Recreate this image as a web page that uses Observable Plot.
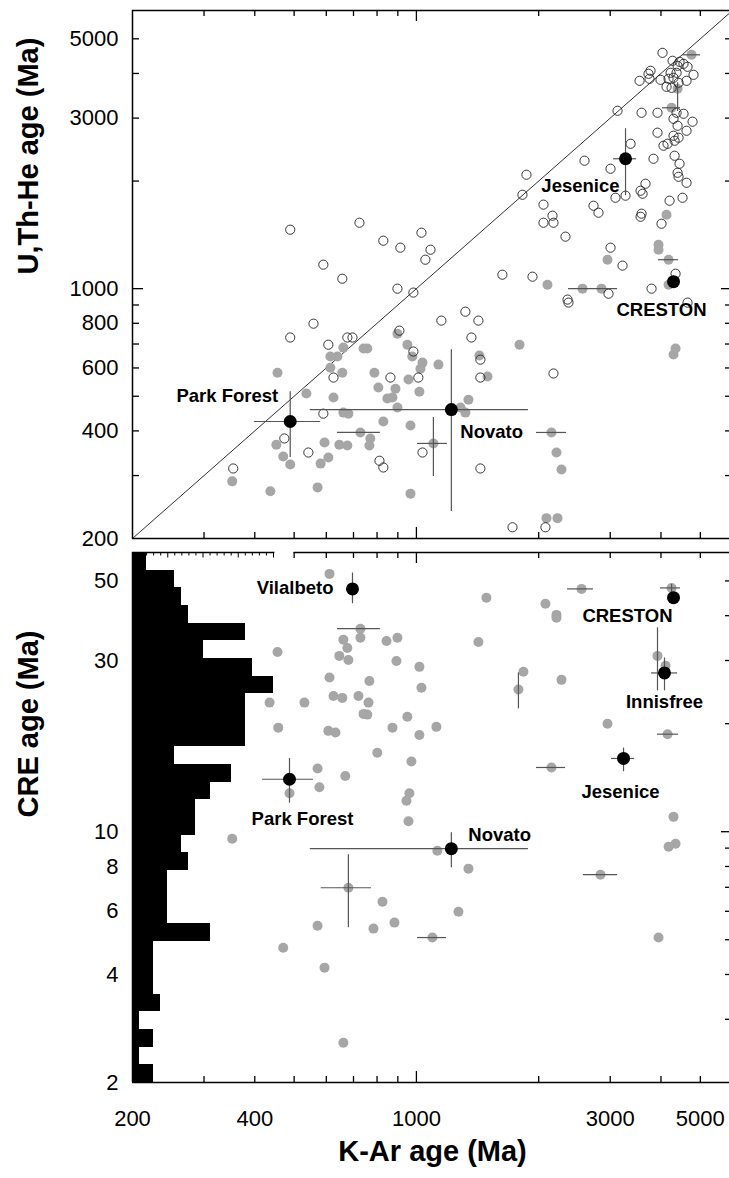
<!DOCTYPE html>
<html><head><meta charset="utf-8">
<script src="https://cdn.jsdelivr.net/npm/d3@7"></script>
<script src="https://cdn.jsdelivr.net/npm/@observablehq/plot@0.6"></script>
<style>
html,body{margin:0;padding:0;background:#fff;overflow:hidden}
#chart{position:relative;width:729px;height:1178px;overflow:hidden;background:#fff}
#chart svg{position:absolute;left:0;top:0;max-width:none}
</style></head><body><div id="chart"></div>
<script>
// ---------- DATA ----------
// Top panel: K-Ar age vs U,Th-He age (Ma)
const topOpen = [
 [4035,4568],[4272,4340],[4444,4312],[4395,4202],[4545,4256],[4650,4175],[3770,4069],[3727,3991],
 [4224,4017],[4370,4017],[4811,3965],[3543,3815],[3749,3865],[3990,3840],[4176,3865],[4295,3890],
 [4624,3815],[4128,3670],[4419,3767],[4248,3646],[3127,3145],[3583,3105],[3922,3105],[4370,3105],
 [4545,3085],[4295,2987],[4784,2931],[4395,2856],[3922,2731],[4624,2765],[4295,2678],[4419,2644],
 [3367,2543],[4152,2543],[4058,2511],[4321,2593],[2593,2280],[3005,2165],[3834,2309],[4321,2354],
 [4444,2236],[4395,2110],[4419,2056],[4624,1978],[3664,1966],[3563,1879],[3604,1843],[3272,1820],
 [3091,1796],[4200,1762],[4520,1796],[2729,1706],[1866,2083],[1824,1831],[2055,1718],[2163,1600],
 [2055,1529],[2175,1529],[2807,1631],[3583,1621],[3563,1589],[4012,1519],[2328,1398],[3005,1302],
 [3217,1160],[4345,1101],[829,1362],[913,1302],[1029,1434],[1083,1285],[1052,1205],[1628,1094],
 [1931,1080],[2971,968],[2355,932],[2368,914],[3792,1000],[4650,914],[489,1462],[590,1167],
 [724,1529],[657,1066],[898,1000],[983,975],[1320,862],[1152,814],[1421,814],[908,763],
 [1366,730],[983,667],[1437,633],[863,564],[1011,564],[1437,564],[2175,579],[1035,348],
 [811,330],[829,316],[1437,314],[1724,215],[2078,215],[558,798],[489,730],[607,697],
 [676,730],[696,730],[625,564],[590,447],[473,381],[542,348],[354,314]
];
const topGrey = [
 [4757,4510],[4395,3623],[4248,3206],[4128,1610],[3945,1327],[3945,1285],[2954,1205],[4176,1205],
 [2102,1026],[2564,1000],[2855,1000],[4176,1026],[4345,680],[4295,654],[898,748],[757,680],
 [950,697],[977,646],[1035,621],[1023,597],[1133,613],[1429,650],[1794,697],[788,582],
 [956,557],[1496,568],[806,529],[888,525],[1017,515],[848,493],[873,496],[898,465],
 [1284,465],[1320,450],[1343,489],[829,425],[967,414],[770,381],[766,364],[1101,369],
 [2150,396],[2212,348],[2276,312],[967,267],[2090,228],[2225,228],[661,684],[741,680],
 [614,646],[639,646],[455,582],[614,601],[657,582],[536,509],[625,496],[661,450],
 [680,447],[728,396],[452,366],[594,371],[646,366],[676,364],[470,339],[489,322],
 [581,324],[607,337],[352,289],[437,271],[571,278]
];
const topNamed = ["Park Forest","Novato","Jesenice","CRESTON"];
const topNamedKAr = [489,1219,3272,4295];
const topNamedHe = [425,459,2309,1046];
// horizontal error bars [y, xLow, xHigh]
const topErrH = [[4510,4520,5007],[3206,4035,4469],[1205,3945,4419],[1000,2368,3127],[369,1006,1192],
 [396,1975,2342],[396,639,815],[425,399,581],[459,548,1887],[2309,3057,3483]];
// vertical error bars [x, yLow, yHigh]
const topErrV = [[4395,3130,3767],[1101,298,436],[489,337,515],[1219,238,675],[3272,1820,2802],[4295,1010,1085]];

// Bottom panel: K-Ar age vs CRE age (Ma)
const botGrey = [
 [611,52.3],[728,36.8],[728,34.7],[661,34.3],[676,32.5],[455,31.7],[646,30.9],[680,30.1],
 [611,26.9],[435,22.9],[530,22.9],[625,23.9],[657,23.6],[720,23.9],[741,21.3],[457,19.5],
 [607,19.1],[632,18.9],[487,12.8],[571,15.0],[577,13.3],[668,14.3],[2550,47.5],[4248,47.8],
 [1487,44.9],[2078,43.2],[2212,40.2],[2212,39.5],[844,34.0],[898,34.7],[1421,33.8],[3922,30.9],
 [4105,29.0],[893,29.9],[1017,28.8],[766,26.3],[1029,25.2],[1834,27.9],[1783,24.9],[2276,26.5],
 [762,22.9],[757,21.2],[950,20.9],[873,19.5],[1017,18.6],[1120,19.6],[2954,20.0],[4152,18.7],
 [801,16.6],[972,15.7],[2150,15.1],[961,12.8],[945,12.2],[4295,11.0],[956,10.7],[1126,8.85],
 [1343,7.89],[825,6.38],[784,5.37],[883,5.58],[1269,5.98],[1095,5.07],[2839,7.59],[4176,9.08],
 [4345,9.26],[3945,5.07],[352,9.56],[680,6.98],[571,5.47],[470,4.75],[594,4.18],[661,2.58]
];
const botNamed = ["Vilalbeto","CRESTON","Innisfree","Park Forest","Jesenice","Novato"];
const botNamedKAr = [696,4295,4081,487,3235,1219];
const botNamedCRE = [47.5,44.9,27.7,14.0,16.0,8.97];
const botErrH = [[36.8,639,815],[47.5,2355,2729],[47.8,3990,4469],[18.7,3922,4419],[15.1,1975,2328],
 [5.07,1006,1186],[7.59,2578,3127],[6.98,583,775],[27.7,3792,4395],[14.0,418,558],[16.0,3022,3444],[8.97,548,1887]];
const botErrV = [[3922,24.7,37.0],[1783,22.0,27.7],[680,5.40,8.63],[4248,46.0,48.9],[696,43.2,52.6],
 [4081,24.7,30.5],[487,12.0,16.0],[3235,14.7,17.1],[1219,7.94,9.94]];

// CRE-age histogram: counts per log bin, from 2 Ma (bottom) to 60 Ma (top), 30 bins
const histCounts = [3,1,3,1,4,3,3,3,11,5,5,5,8,7,9,9,11,14,6,16,16,16,20,17,10,16,8,7,6,2];
const histTicksMinor = [1,2,3,4,6,7,8,9,11,12,13,14,16,17,18,19];
const histTicksMajor = [5,10,15,20];

// ticks and tick labels
const xTickMinor = [300,400,500,600,700,800,900,2000,3000,4000,5000];
const xTickMajor = [1000];
const xTickTopBot = [500,600,700,800,900,2000,3000,4000,5000];
const xLabels = [200,400,600,1000,3000,5000];
const yTopTickMinor = [300,400,500,600,700,800,900,2000,3000,4000,5000];
const yTopTickMajor = [1000];
const yTopLabels = [200,400,600,800,1000,3000,5000];
const yBotTickMinor = [3,4,5,6,7,8,9,20,30,40,50];
const yBotTickMajor = [10];
const yBotLabels = [2,4,6,8,10,30,50];

// ---------- RENDER ----------
const FONT = '"Liberation Sans", Arial, Helvetica, sans-serif';
const W = 732, IW = 600;
const svgStyle = {background: "transparent", fontFamily: FONT, maxWidth: "none", overflow: "visible"};
const tk = {stroke: "black", strokeWidth: 1.3};
const errStyle = {stroke: "#555", strokeWidth: 1.2};
const greyFill = "#a6a6a6";
const lbl = {fontSize: 18.5, fontWeight: "bold", fill: "black"};
const chart = document.getElementById("chart");

function frameTicks(IH, xMin, xMaj, yMin, yMaj, xTopMin, opts = {}) {
  const m = [
    Plot.tickX(xTopMin, {x: d => d, insetBottom: IH - 6, ...tk}),
    Plot.tickX(xMaj, {x: d => d, insetBottom: IH - 11, ...tk}),
    Plot.tickX(xMin, {x: d => d, insetTop: IH - 6, ...tk}),
    Plot.tickX(xMaj, {x: d => d, insetTop: IH - 11, ...tk}),
    Plot.tickY(yMin, {y: d => d, insetLeft: IW - 7, ...tk}),
    Plot.tickY(yMaj, {y: d => d, insetLeft: IW - 11, ...tk})
  ];
  if (opts.left) {
    m.push(Plot.tickY(yMin, {y: d => d, insetRight: IW - 7, ...tk}));
    m.push(Plot.tickY(yMaj, {y: d => d, insetRight: IW - 11, ...tk}));
  }
  return m;
}

// ---- top panel
const topIH = 528;
const topPlot = Plot.plot({
  width: W, height: 540, marginLeft: 132, marginRight: 0, marginTop: 10, marginBottom: 2,
  style: svgStyle,
  x: {type: "log", domain: [200, 6000], axis: null},
  y: {type: "log", domain: [200, 6000], axis: null},
  marks: [
    Plot.line([[200, 200], [6000, 6000]], {x: d => d[0], y: d => d[1], stroke: "#333", strokeWidth: 1, clip: true}),
    Plot.dot(topGrey, {x: d => d[0], y: d => d[1], r: 5, fill: greyFill, stroke: "none"}),
    Plot.dot(topOpen, {x: d => d[0], y: d => d[1], r: 4.6, fill: "none", stroke: "#222", strokeWidth: 0.9}),
    Plot.ruleY(topErrH, {y: d => d[0], x1: d => d[1], x2: d => d[2], ...errStyle}),
    Plot.ruleX(topErrV, {x: d => d[0], y1: d => d[1], y2: d => d[2], ...errStyle}),
    Plot.dot(topNamed.map((n, i) => i), {x: i => topNamedKAr[i], y: i => topNamedHe[i], r: 6.5, fill: "black", stroke: "none"}),
    Plot.text([0], {x: i => topNamedKAr[i], y: i => topNamedHe[i], text: i => topNamed[i], textAnchor: "end", dx: -12, dy: -25, ...lbl}),
    Plot.text([1], {x: i => topNamedKAr[i], y: i => topNamedHe[i], text: i => topNamed[i], textAnchor: "start", dx: 9, dy: 23, ...lbl}),
    Plot.text([2], {x: i => topNamedKAr[i], y: i => topNamedHe[i], text: i => topNamed[i], textAnchor: "end", dx: -6, dy: 27, ...lbl}),
    Plot.text([3], {x: i => topNamedKAr[i], y: i => topNamedHe[i], text: i => topNamed[i], textAnchor: "middle", dx: -12, dy: 28, ...lbl}),
    ...frameTicks(topIH, xTickMinor, xTickMajor, yTopTickMinor, yTopTickMajor, xTickMinor, {left: true}),
    Plot.frame({stroke: "black", strokeWidth: 1.5}),
    Plot.axisY(yTopLabels, {anchor: "left", tickSize: 0, tickPadding: 14, fontSize: 22, tickFormat: d => String(d), label: null}),
    Plot.text(["U,Th-He age (Ma)"], {frameAnchor: "left", dx: -104, rotate: -90, fontSize: 29, fontWeight: "bold", fill: "black"})
  ]
});

// ---- bottom panel histogram (own linear count scale)
const edges = d3.range(histCounts.length + 1).map(i => 2 * Math.pow(30, i / histCounts.length));
const histBins = histCounts.map((c, i) => ({count: c, lo: edges[i], hi: edges[i + 1]}));
const botIH = 530;
const histPlot = Plot.plot({
  width: W, height: 1178, marginLeft: 132, marginRight: 0, marginTop: 552, marginBottom: 96,
  style: svgStyle,
  x: {type: "linear", domain: [0, IW / 7.05], axis: null},
  y: {type: "log", domain: [2, 60], axis: null},
  marks: [
    Plot.rect(histBins, {x1: 0, x2: "count", y1: "lo", y2: "hi", fill: "black", shapeRendering: "crispEdges"}),
    Plot.ruleY([60], {x1: 0, x2: 20.2, stroke: "black", strokeWidth: 1.5}),
    Plot.tickX(histTicksMinor, {x: d => d, insetBottom: botIH - 3.5, stroke: "black", strokeWidth: 1}),
    Plot.tickX(histTicksMajor, {x: d => d, insetBottom: botIH - 5.5, stroke: "black", strokeWidth: 1})
  ]
});

// ---- bottom panel scatter
const botPlot = Plot.plot({
  width: W, height: 1178, marginLeft: 132, marginRight: 0, marginTop: 552, marginBottom: 96,
  style: svgStyle,
  x: {type: "log", domain: [200, 6000], axis: null},
  y: {type: "log", domain: [2, 60], axis: null},
  marks: [
    Plot.dot(botGrey, {x: d => d[0], y: d => d[1], r: 5, fill: greyFill, stroke: "none"}),
    Plot.ruleY(botErrH, {y: d => d[0], x1: d => d[1], x2: d => d[2], ...errStyle}),
    Plot.ruleX(botErrV, {x: d => d[0], y1: d => d[1], y2: d => d[2], ...errStyle}),
    Plot.dot(botNamed.map((n, i) => i), {x: i => botNamedKAr[i], y: i => botNamedCRE[i], r: 6.5, fill: "black", stroke: "none"}),
    Plot.text([0], {x: i => botNamedKAr[i], y: i => botNamedCRE[i], text: i => botNamed[i], textAnchor: "end", dx: -19, dy: -1, ...lbl}),
    Plot.text([1], {x: i => botNamedKAr[i], y: i => botNamedCRE[i], text: i => botNamed[i], textAnchor: "end", dx: -1, dy: 18, ...lbl}),
    Plot.text([2], {x: i => botNamedKAr[i], y: i => botNamedCRE[i], text: i => botNamed[i], textAnchor: "middle", dx: 0, dy: 29, ...lbl}),
    Plot.text([3], {x: i => botNamedKAr[i], y: i => botNamedCRE[i], text: i => botNamed[i], textAnchor: "middle", dx: 13, dy: 40, ...lbl}),
    Plot.text([4], {x: i => botNamedKAr[i], y: i => botNamedCRE[i], text: i => botNamed[i], textAnchor: "middle", dx: -3, dy: 34, ...lbl}),
    Plot.text([5], {x: i => botNamedKAr[i], y: i => botNamedCRE[i], text: i => botNamed[i], textAnchor: "start", dx: 17, dy: -14, ...lbl}),
    ...frameTicks(botIH, xTickMinor, xTickMajor, yBotTickMinor, yBotTickMajor, xTickTopBot, {left: false}),
    Plot.ruleY([2], {stroke: "black", strokeWidth: 1.5}),
    Plot.ruleY([60], {x1: 500, x2: 6000, stroke: "black", strokeWidth: 1.5}),
    Plot.ruleX([200], {stroke: "black", strokeWidth: 1.5}),
    Plot.ruleX([6000], {stroke: "black", strokeWidth: 1.5}),
    Plot.axisY(yBotLabels, {anchor: "left", tickSize: 0, tickPadding: 14, fontSize: 22, tickFormat: d => String(d), label: null}),
    Plot.axisX(xLabels, {anchor: "bottom", tickSize: 0, tickPadding: 28, fontSize: 22, tickFormat: d => String(d), label: null}),
    Plot.text(["CRE age (Ma)"], {frameAnchor: "left", dx: -104, rotate: -90, fontSize: 29, fontWeight: "bold", fill: "black"}),
    Plot.text(["K-Ar age (Ma)"], {frameAnchor: "bottom", dy: 78, fontSize: 29, fontWeight: "bold", fill: "black"})
  ]
});

chart.append(topPlot, histPlot, botPlot);
</script></body></html>
